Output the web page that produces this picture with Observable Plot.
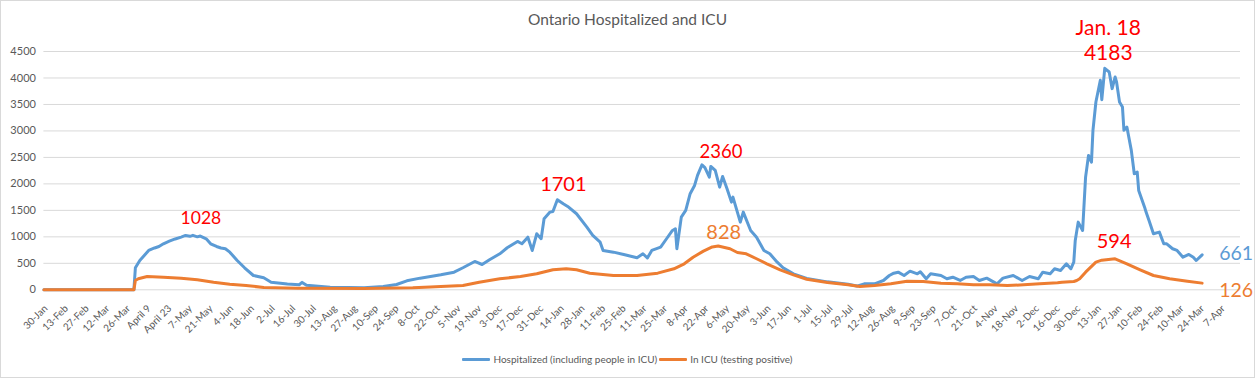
<!DOCTYPE html>
<html><head><meta charset="utf-8">
<script src="https://cdn.jsdelivr.net/npm/d3@7"></script>
<script src="https://cdn.jsdelivr.net/npm/@observablehq/plot@0.6"></script>
<style>
body{margin:0;background:#fff;font-family:Lato,sans-serif;}
#wrap{position:relative;width:1255px;height:378px;overflow:hidden;background:#fff;}
#chart{position:absolute;left:0;top:0;}
#frame{position:absolute;left:0;top:0;width:1255px;height:378px;box-sizing:border-box;border:1px solid #d9d9d9;pointer-events:none;}
#title{position:absolute;top:10px;left:0;width:1255px;text-align:center;font-size:15.5px;color:#595959;line-height:19px;}
#legend{position:absolute;top:352px;left:0;width:1255px;height:14px;display:flex;justify-content:center;align-items:center;font-size:10px;color:#595959;}
.sw{display:inline-block;width:28px;height:3px;margin:0 3px 0 0;border-radius:1px;}
.item{display:flex;align-items:center;margin:0 1px;}
</style></head>
<body><div id="wrap"><div id="chart"></div><div id="title">Ontario Hospitalized and ICU</div><div id="legend"></div><div id="frame"></div></div>
<script>
const tickLabels = ["30-Jan","13-Feb","27-Feb","12-Mar","26-Mar","April 9","April 23","7-May","21-May","4-Jun","18-Jun","2-Jul","16-Jul","30-Jul","13-Aug","27-Aug","10-Sep","24-Sep","8-Oct","22-Oct","5-Nov","19-Nov","3-Dec","17-Dec","31-Dec","14-Jan","28-Jan","11-Feb","25-Feb","11-Mar","25-Mar","8-Apr","22-Apr","6-May","20-May","3-Jun","17-Jun","1-Jul","15-Jul","29-Jul","12-Aug","26-Aug","9-Sep","23-Sep","7-Oct","21-Oct","4-Nov","18-Nov","2-Dec","16-Dec","30-Dec","13-Jan","27-Jan","10-Feb","24-Feb","10-Mar","24-Mar","7-Apr"];
const yTicks = [0,500,1000,1500,2000,2500,3000,3500,4000,4500];

const hospDates = ["2020-01-30","2020-03-31","2020-04-01","2020-04-04","2020-04-07","2020-04-10","2020-04-14","2020-04-17","2020-04-20","2020-04-24","2020-04-28","2020-05-02","2020-05-05","2020-05-08","2020-05-10","2020-05-13","2020-05-15","2020-05-19","2020-05-22","2020-05-26","2020-05-29","2020-06-01","2020-06-04","2020-06-09","2020-06-14","2020-06-20","2020-06-27","2020-07-02","2020-07-13","2020-07-21","2020-07-23","2020-07-26","2020-08-11","2020-09-03","2020-09-16","2020-09-25","2020-10-02","2020-10-11","2020-10-18","2020-10-25","2020-11-03","2020-11-09","2020-11-17","2020-11-22","2020-11-27","2020-12-04","2020-12-09","2020-12-16","2020-12-19","2020-12-23","2020-12-26","2020-12-29","2021-01-01","2021-01-03","2021-01-07","2021-01-09","2021-01-12","2021-01-16","2021-01-19","2021-01-25","2021-02-01","2021-02-05","2021-02-10","2021-02-12","2021-02-19","2021-02-26","2021-03-07","2021-03-11","2021-03-14","2021-03-17","2021-03-23","2021-03-27","2021-03-31","2021-04-02","2021-04-03","2021-04-06","2021-04-09","2021-04-12","2021-04-15","2021-04-17","2021-04-20","2021-04-22","2021-04-25","2021-04-26","2021-04-29","2021-05-02","2021-05-04","2021-05-07","2021-05-10","2021-05-11","2021-05-16","2021-05-18","2021-05-23","2021-05-27","2021-06-01","2021-06-05","2021-06-10","2021-06-14","2021-06-21","2021-06-30","2021-07-14","2021-07-28","2021-08-03","2021-08-08","2021-08-15","2021-08-21","2021-08-25","2021-08-28","2021-08-31","2021-09-04","2021-09-08","2021-09-13","2021-09-15","2021-09-19","2021-09-22","2021-09-29","2021-10-03","2021-10-07","2021-10-12","2021-10-16","2021-10-21","2021-10-25","2021-10-30","2021-11-06","2021-11-10","2021-11-17","2021-11-23","2021-11-28","2021-12-04","2021-12-07","2021-12-12","2021-12-15","2021-12-19","2021-12-23","2021-12-26","2021-12-28","2021-12-29","2021-12-31","2022-01-03","2022-01-05","2022-01-07","2022-01-09","2022-01-10","2022-01-12","2022-01-15","2022-01-16","2022-01-18","2022-01-21","2022-01-23","2022-01-25","2022-01-26","2022-01-28","2022-01-30","2022-01-31","2022-02-02","2022-02-05","2022-02-07","2022-02-09","2022-02-10","2022-02-14","2022-02-15","2022-02-17","2022-02-20","2022-02-24","2022-02-27","2022-03-01","2022-03-05","2022-03-08","2022-03-12","2022-03-16","2022-03-19","2022-03-21","2022-03-25"];
const hospValues = [0,0,416,554,648,743,790,818,869,919,960,995,1026,1010,1028,1000,1015,963,869,818,790,775,711,554,416,270,227,144,110,95,140,85,49,40,62,100,170,220,251,283,333,416,535,478,567,680,794,913,869,994,743,1058,964,1342,1467,1480,1701,1625,1574,1436,1183,1026,900,743,711,667,605,680,600,743,805,964,1121,1153,775,1372,1499,1814,1971,2160,2360,2306,2128,2330,2255,1939,2141,1909,1656,1750,1278,1467,1121,994,743,680,522,416,302,215,150,105,70,113,113,176,270,314,333,270,352,302,340,208,302,270,208,238,176,238,251,176,220,113,220,270,176,251,208,333,302,397,365,491,397,522,932,1278,1121,2128,2538,2412,3011,3546,3956,3591,4183,4113,3799,4018,3924,3546,3451,3011,3073,2633,2192,2223,1877,1561,1467,1310,1058,1089,869,869,775,743,616,667,616,554,661];

const icuDates = ["2020-01-30","2020-03-31","2020-04-01","2020-04-03","2020-04-09","2020-04-20","2020-05-02","2020-05-13","2020-05-24","2020-06-04","2020-06-15","2020-06-27","2020-07-20","2020-09-03","2020-10-06","2020-10-18","2020-10-25","2020-11-09","2020-11-20","2020-12-04","2020-12-18","2020-12-29","2021-01-09","2021-01-18","2021-01-25","2021-02-03","2021-02-19","2021-03-07","2021-03-21","2021-04-01","2021-04-08","2021-04-14","2021-04-21","2021-04-27","2021-05-01","2021-05-09","2021-05-14","2021-05-20","2021-05-27","2021-06-03","2021-06-12","2021-06-21","2021-06-30","2021-07-14","2021-07-28","2021-08-05","2021-08-15","2021-08-26","2021-09-06","2021-09-17","2021-09-29","2021-10-10","2021-10-21","2021-11-01","2021-11-13","2021-11-24","2021-12-05","2021-12-17","2021-12-20","2021-12-28","2021-12-30","2022-01-01","2022-01-05","2022-01-12","2022-01-16","2022-01-25","2022-02-02","2022-02-11","2022-02-20","2022-03-03","2022-03-15","2022-03-25"];
const icuValues = [0,0,176,208,251,238,219,189,144,106,81,45,30,25,40,55,62,81,144,208,251,302,378,397,378,314,270,270,314,397,491,616,730,810,828,775,705,680,586,491,378,283,200,138,95,62,81,113,163,157,125,113,94,94,81,94,113,132,144,157,176,208,333,522,560,585,491,378,270,208,163,126];

const seriesNames = ["Hospitalized (including people in ICU)", "In ICU (testing positive)"];
const seriesColors = ["#5b9bd5", "#ed7d31"];

const annotations = [
  {date:"2020-05-10", value:1028, text:"1028", color:"#ff0000", size:17.5, dx:8, dy:-17},
  {date:"2021-01-12", value:1701, text:"1701", color:"#ff0000", size:20, dx:6, dy:-15},
  {date:"2021-04-20", value:2360, text:"2360", color:"#ff0000", size:18.5, dx:19, dy:-12.5},
  {date:"2021-05-01", value:828, text:"828", color:"#ed7d31", size:20, dx:5.5, dy:-13.5},
  {date:"2022-01-18", value:4183, text:"4183", color:"#ff0000", size:21, dx:3.5, dy:-15},
  {date:"2022-01-18", value:4183, text:"Jan. 18", color:"#ff0000", size:21, dx:3.5, dy:-40},
  {date:"2022-01-25", value:585, text:"594", color:"#ff0000", size:20, dx:-1, dy:-17},
  {date:"2022-03-25", value:661, text:"661", color:"#5b9bd5", size:19.5, dx:34, dy:-1},
  {date:"2022-03-25", value:126, text:"126", color:"#ed7d31", size:19.5, dx:34, dy:7.5}
];

const start = new Date("2020-01-30");
const tickDates = tickLabels.map((_, i) => d3.utcDay.offset(start, 14 * i));
const labelOf = new Map(tickDates.map((d, i) => [+d, tickLabels[i]]));
const hosp = hospDates.map((d, i) => ({date: new Date(d), value: hospValues[i]}));
const icu = icuDates.map((d, i) => ({date: new Date(d), value: icuValues[i]}));

const plot = Plot.plot({
  width: 1255, height: 340,
  marginLeft: 43.4, marginRight: 15, marginTop: 51, marginBottom: 50.7,
  style: {fontFamily: "Lato, sans-serif", color: "#595959", background: "transparent", overflow: "visible"},
  x: {type: "utc", domain: [start, new Date("2022-04-20")]},
  y: {domain: [0, 4500]},
  marks: [
    Plot.ruleY(yTicks, {stroke: "#d9d9d9", strokeWidth: 1}),
    Plot.axisY(yTicks, {tickSize: 0, tickPadding: 8, fontSize: 11, fill: "#595959", label: null, tickFormat: d => String(d)}),
    Plot.axisX(tickDates, {tickSize: 0, tickPadding: 17, tickRotate: -45, textAnchor: "end", lineAnchor: "middle", dx: 2, fontSize: 10, fill: "#595959", tickFormat: d => labelOf.get(+d), label: null}),
    Plot.line(hosp, {x: "date", y: "value", stroke: seriesColors[0], strokeWidth: 3, strokeLinejoin: "round"}),
    Plot.line(icu, {x: "date", y: "value", stroke: seriesColors[1], strokeWidth: 3, strokeLinejoin: "round"}),
    ...annotations.map(a => Plot.text([a], {x: d => new Date(d.date), y: "value", text: "text", fill: a.color, fontSize: a.size, dx: a.dx, dy: a.dy, textAnchor: "middle"}))
  ]
});
document.getElementById("chart").append(plot);

const legend = document.getElementById("legend");
seriesNames.forEach((n, i) => {
  const item = document.createElement("span");
  item.className = "item";
  item.innerHTML = `<span class="sw" style="background:${seriesColors[i]}"></span><span>${n}</span>`;
  legend.append(item);
});
</script>
</body></html>
